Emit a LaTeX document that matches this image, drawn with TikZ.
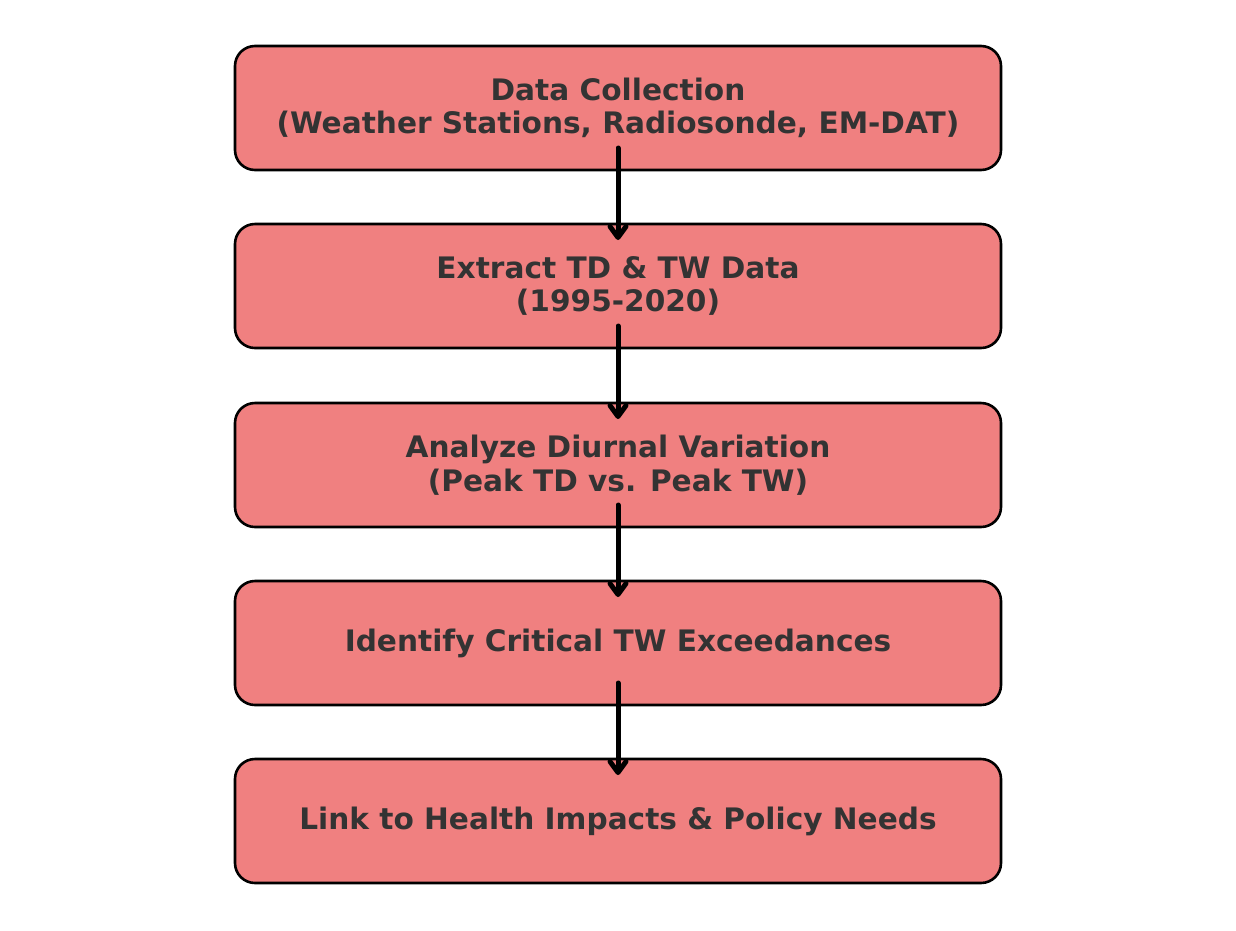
\documentclass[tikz,border=0pt]{standalone}
\usepackage{fontspec}
\setmainfont{DejaVu Sans}
\usetikzlibrary{arrows.meta}
\definecolor{boxfill}{HTML}{F08080}
\definecolor{txt}{HTML}{333333}
\begin{document}
\begin{tikzpicture}[x=1pt,y=-1pt,
  stepbox/.style={draw=black,line width=2.6pt,fill=boxfill,rounded corners=20pt,
    minimum width=766pt,minimum height=124pt,inner sep=0pt,align=center,
    font=\fontsize{29.6}{33.5}\selectfont\bfseries,text=txt},
  flow/.style={line width=5pt,line cap=round,-{Straight Barb[round,length=11pt,width=16pt,line width=5pt]}}]
\useasboundingbox (0,0) rectangle (1236,930);
\node[stepbox] (b1) at (618,108) {Data Collection\\(Weather Stations, Radiosonde, EM-DAT)};
\node[stepbox] (b2) at (618,286) {Extract TD \& TW Data\\(1995-2020)};
\node[stepbox] (b3) at (618,465) {Analyze Diurnal Variation\\(Peak TD vs. Peak TW)};
\node[stepbox] (b4) at (618,643) {Identify Critical TW Exceedances};
\node[stepbox] (b5) at (618,821) {Link to Health Impacts \& Policy Needs};
\draw[flow] ([yshift=-40pt]b1.center) -- ([yshift=46pt]b2.center);
\draw[flow] ([yshift=-40pt]b2.center) -- ([yshift=46pt]b3.center);
\draw[flow] ([yshift=-40pt]b3.center) -- ([yshift=46pt]b4.center);
\draw[flow] ([yshift=-40pt]b4.center) -- ([yshift=46pt]b5.center);
\end{tikzpicture}
\end{document}
